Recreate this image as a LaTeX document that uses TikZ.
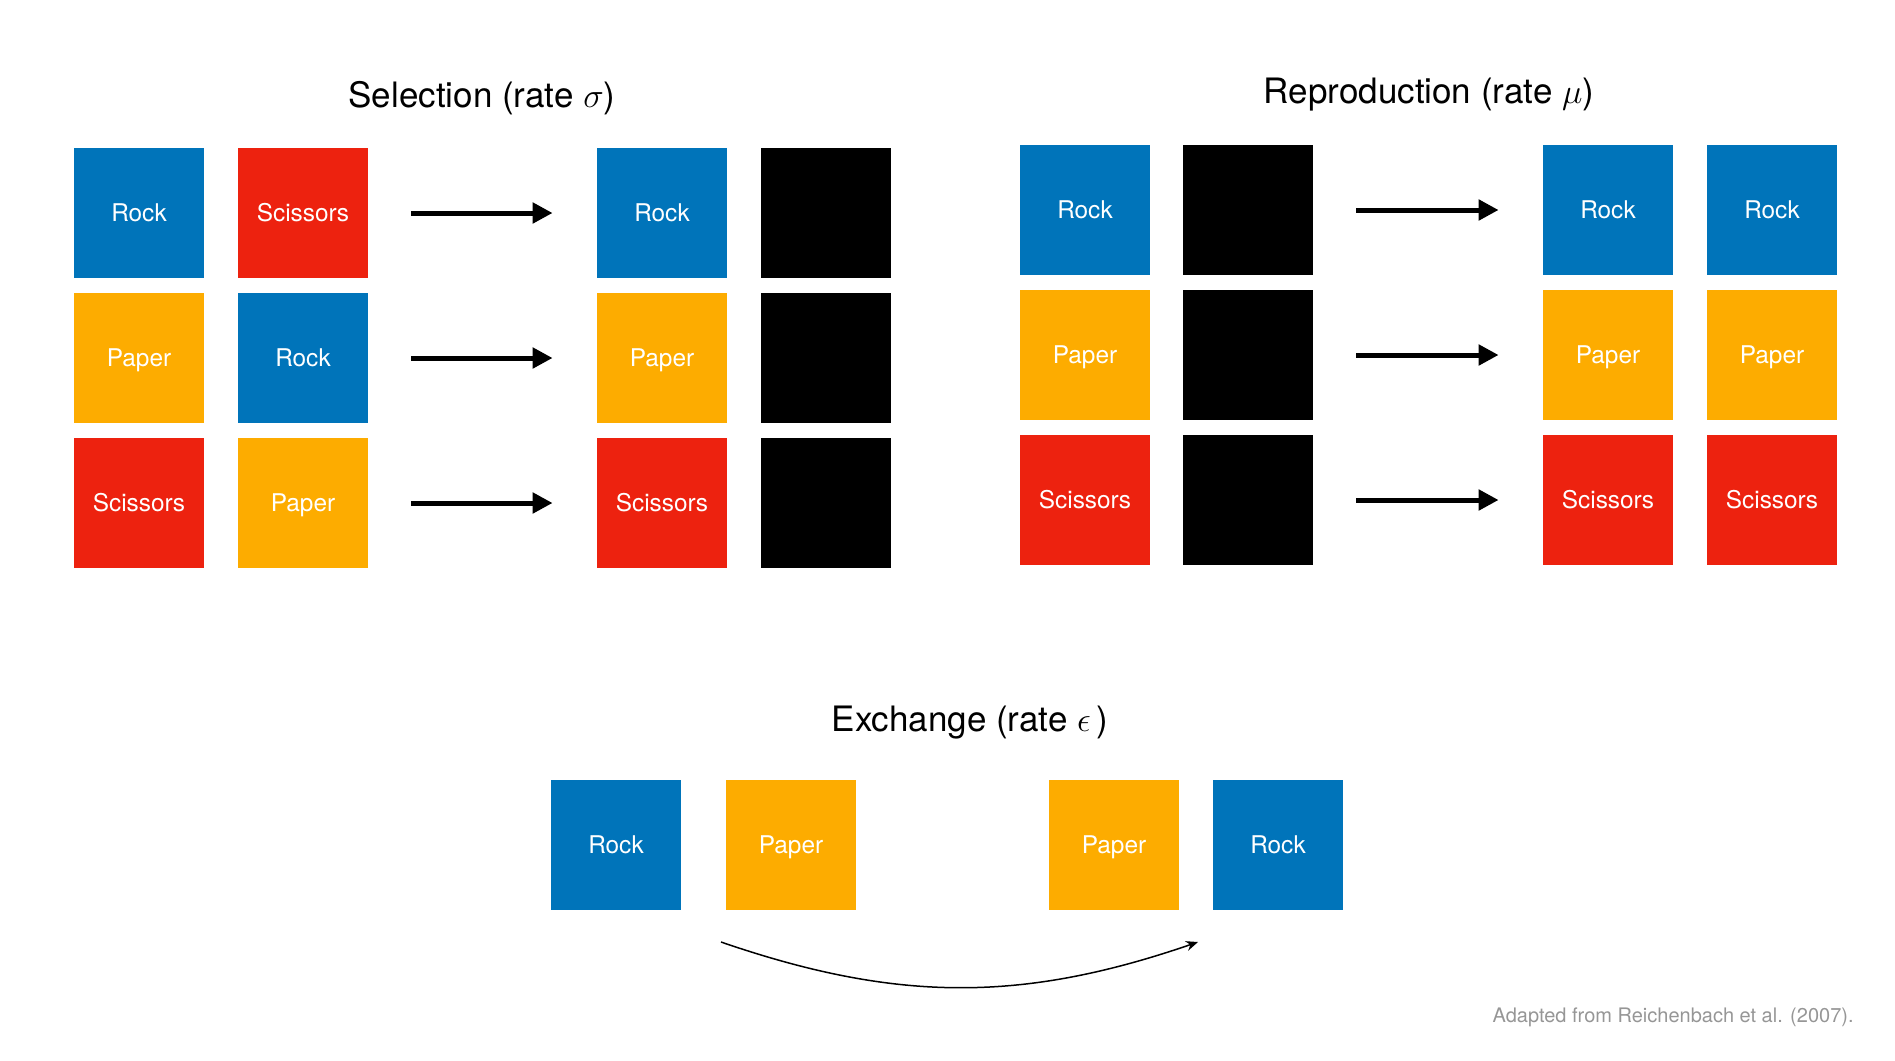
\documentclass[tikz,border=0pt]{standalone}
\usepackage{fontspec}
\setmainfont{TeX Gyre Heros}
\usetikzlibrary{arrows.meta}
\definecolor{rockblue}{RGB}{0,116,186}
\definecolor{paperyellow}{RGB}{253,172,0}
\definecolor{scissorsred}{RGB}{237,34,15}
\definecolor{notegray}{RGB}{150,150,150}

\begin{document}
\begin{tikzpicture}[x=0.5pt, y=0.5pt,
    every node/.style={inner sep=0pt},
    card/.style={minimum size=65pt, text=white, font=\fontsize{12.2}{14}\selectfont, text height=8.75pt, text depth=0pt},
    rock/.style={card, fill=rockblue},
    paper/.style={card, fill=paperyellow},
    scissors/.style={card, fill=scissorsred},
    gone/.style={card, fill=black},
    heading/.style={font=\fontsize{17.5}{21}\selectfont, anchor=base},
    move/.style={line width=2.5pt, -{Triangle[length=10pt, width=10pt]}, shorten <=21.5pt, shorten >=22pt},
    trade/.style={line width=0.75pt, -{Stealth[length=6pt, width=5pt]}}]
    \useasboundingbox (0,0) rectangle (1895,-1060);

    % Selection
    \node[heading] (seltitle) at (482,-107) {Selection (rate $\sigma$)};
    \node[rock] (s11) at (139,-213) {Rock};
    \node[scissors] (s12) at (303,-213) {Scissors};
    \node[rock] (s13) at (662,-213) {Rock};
    \node[gone] (s14) at (826,-213) {};
    \node[paper] (s21) at (139,-358) {Paper};
    \node[rock] (s22) at (303,-358) {Rock};
    \node[paper] (s23) at (662,-358) {Paper};
    \node[gone] (s24) at (826,-358) {};
    \node[scissors] (s31) at (139,-503) {Scissors};
    \node[paper] (s32) at (303,-503) {Paper};
    \node[scissors] (s33) at (662,-503) {Scissors};
    \node[gone] (s34) at (826,-503) {};
    \draw[move] (s12) -- (s13);
    \draw[move] (s22) -- (s23);
    \draw[move] (s32) -- (s33);

    % Reproduction
    \node[heading] (reptitle) at (1429,-103) {Reproduction (rate $\mu$)};
    \node[rock] (r11) at (1085,-210) {Rock};
    \node[gone] (r12) at (1248,-210) {};
    \node[rock] (r13) at (1608,-210) {Rock};
    \node[rock] (r14) at (1772,-210) {Rock};
    \node[paper] (r21) at (1085,-355) {Paper};
    \node[gone] (r22) at (1248,-355) {};
    \node[paper] (r23) at (1608,-355) {Paper};
    \node[paper] (r24) at (1772,-355) {Paper};
    \node[scissors] (r31) at (1085,-500) {Scissors};
    \node[gone] (r32) at (1248,-500) {};
    \node[scissors] (r33) at (1608,-500) {Scissors};
    \node[scissors] (r34) at (1772,-500) {Scissors};
    \draw[move] (r12) -- (r13);
    \draw[move] (r22) -- (r23);
    \draw[move] (r32) -- (r33);

    % Exchange
    \node[heading] (extitle) at (970,-731) {Exchange (rate $\epsilon$\,)};
    \node[rock] (e1) at (616,-845) {Rock};
    \node[paper] (e2) at (791,-845) {Paper};
    \node[paper] (e3) at (1114,-845) {Paper};
    \node[rock] (e4) at (1278,-845) {Rock};
    \coordinate (xa) at (721,-942);
    \coordinate (xb) at (1198,-942);
    \draw[trade] (xa) to[bend right=19] (xb);

    % Source
    \node[anchor=base east, text=notegray, font=\fontsize{10}{12}\selectfont] (note) at (1854,-1022) {Adapted from Reichenbach et al. (2007).};
\end{tikzpicture}
\end{document}
